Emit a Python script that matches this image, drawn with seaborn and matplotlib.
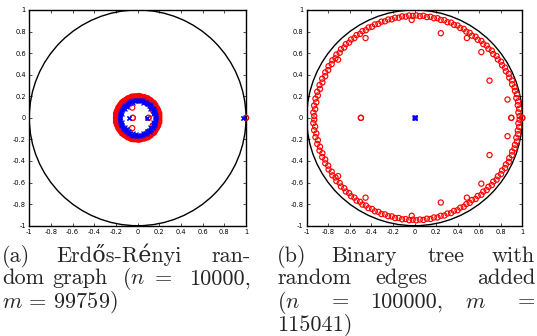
import numpy as np
import pandas as pd
import seaborn as sns
import matplotlib
matplotlib.use('Agg')
from matplotlib import pyplot as plt
from matplotlib.patches import Circle
from matplotlib.ticker import FuncFormatter

# eigenvalues, upper half plane only (conjugates are added when plotting)
# (a) Erdos-Renyi graph, polar: angle (deg) / radius
er_red_ang = [0, 3, 6.5, 9, 12, 15.5, 18, 21, 24.5, 27, 30, 33.5, 36, 39, 42.5, 45, 48, 51.5, 54, 57,
              60.5, 63, 66, 69.5, 72, 75, 78.5, 81, 84, 87.5, 90, 93, 96.5, 99, 102, 105.5, 108, 111,
              114.5, 117, 120, 123.5, 126, 129, 132.5, 135, 138, 141.5, 144, 147, 150.5, 153, 156,
              159.5, 162, 165, 168.5, 171, 174, 177.5, 180]
er_red_rad = [.198, .194, .201, .196, .203, .193, .199, .202, .195, .2,
              .197, .192, .201, .198, .204, .195, .199, .193, .202, .196,
              .2, .203, .194, .198, .201, .195, .192, .2, .197, .203,
              .196, .199, .194, .201, .198, .204, .193, .2, .196, .202,
              .195, .199, .192, .201, .197, .203, .194, .2, .198, .195,
              .202, .193, .199, .196, .201, .194, .203, .197, .2, .195, .199]
er_blue_ang = [1.5, 4, 7.5, 10, 13.5, 16, 19.5, 22, 25.5, 28, 31.5, 34, 37.5, 40, 43.5, 46, 49.5, 52,
               55.5, 58, 61.5, 64, 67.5, 70, 73.5, 76, 79.5, 82, 85.5, 88, 91.5, 94, 97.5, 100, 103.5,
               106, 109.5, 112, 115.5, 118, 121.5, 124, 127.5, 130, 133.5, 136, 139.5, 142, 145.5,
               148, 151.5, 154, 157.5, 160, 163.5, 166, 169.5, 172, 175.5, 178]
er_blue_rad = [.165, .158, .17, .162, .148, .167, .16, .172, .155, .166,
               .161, .169, .14, .163, .168, .157, .171, .16, .152, .166,
               .17, .159, .164, .145, .168, .162, .171, .156, .165, .16,
               .169, .153, .166, .161, .17, .142, .164, .168, .158, .171,
               .162, .15, .167, .16, .169, .155, .165, .17, .146, .163,
               .168, .157, .171, .161, .166, .152, .169, .163, .159, .167]
er_red_x = [-0.05, -0.045, 0.10, 0.092, 0.14, 1.0]
er_red_y = [0.095, 0.0, 0.0, 0.133, 0.07, 0.0]
er_blue_x = [-0.10, -0.078, 0.083, 0.975]
er_blue_y = [0.10, 0.0, 0.0, 0.0]

# (b) binary tree with random edges, polar: (angle deg, radius)
bt_ring = [(1, .975), (3, .965), (5, .975), (7, .965), (9, .972), (11, .962), (13, .975), (15, .965),
           (17, .97), (19, .958), (21, .968), (23, .955), (25, .965), (27, .952), (29, .96), (31, .948),
           (33, .957), (35, .944), (37, .953), (39, .94), (41, .95), (43, .938), (45, .947), (47, .935),
           (49, .945), (51, .932), (53, .942), (55, .93), (57, .94), (59, .933), (61, .943), (63, .935),
           (65, .945), (67, .937), (69, .946), (71, .938), (73, .947), (75, .94), (77, .948), (79, .941),
           (81, .949), (83, .942), (85, .95), (87, .944), (89, .95), (91, .945), (93, .95), (95, .942),
           (97, .948), (99, .94), (101, .946), (103, .938), (105, .944), (107, .936), (109, .943),
           (111, .934), (113, .941), (115, .932), (117, .94), (119, .93), (121, .938), (123, .928),
           (125, .937), (127, .926), (129, .935), (131, .925), (133, .934), (135, .922), (137, .933),
           (139, .92), (141, .932), (143, .918), (145, .93), (147, .916), (149, .93), (151, .915),
           (153, .929), (155, .914), (157, .93), (159, .915), (161, .932), (163, .917), (165, .934),
           (167, .92), (169, .936), (171, .922), (173, .938), (175, .925), (177, .94), (179, .93)]
bt_red_x = [-0.497, -0.454, -0.709, -0.026, 0.244, 0.486, 0.62, 0.696, 0.863, 0.898, 1.0]
bt_red_y = [0.0, 0.74, 0.54, 0.908, 0.785, 0.74, 0.61, 0.345, 0.17, 0.0, 0.0]
bt_blue_x = [0.0, 0.006, -0.006, 0.006, -0.006, 0.0, 0.0]
bt_blue_y = [0.0, 0.006, 0.006, -0.006, -0.006, 0.006, -0.006]

ticks = [-1, -0.8, -0.6, -0.4, -0.2, 0, 0.2, 0.4, 0.6, 0.8, 1]


def eig_frame(ang, rad, xs, ys):
    ang = np.radians(ang)
    rad = np.asarray(rad)
    re = np.concatenate([rad * np.cos(ang), xs])
    im = np.concatenate([rad * np.sin(ang), ys])
    # add complex conjugates
    return pd.DataFrame({'re': np.concatenate([re, re]), 'im': np.concatenate([im, -im])})


sns.set_style('ticks')
plt.rcParams['mathtext.fontset'] = 'cm'

fig = plt.figure(figsize=(5.37, 3.36), dpi=100)
W, H = 537.0, 336.0
ax1 = fig.add_axes([29.3 / W, 1 - 225.7 / H, 216.7 / W, 215.7 / H])
ax2 = fig.add_axes([306.7 / W, 1 - 225.7 / H, 215.6 / W, 215.7 / H])

red_kw = dict(marker='o', s=14, facecolor='none', edgecolor='red', linewidth=0.85, clip_on=False, zorder=3)
blue_kw = dict(marker='x', s=8, color='blue', linewidth=0.9, clip_on=False, zorder=4)

# (a)
sns.scatterplot(data=eig_frame(er_red_ang, er_red_rad, er_red_x, er_red_y),
                x='re', y='im', ax=ax1, **red_kw)
sns.scatterplot(data=eig_frame(er_blue_ang, er_blue_rad, er_blue_x, er_blue_y),
                x='re', y='im', ax=ax1, **blue_kw)

# (b)
sns.scatterplot(data=eig_frame([a for a, r in bt_ring], [r for a, r in bt_ring], bt_red_x, bt_red_y),
                x='re', y='im', ax=ax2, **red_kw)
sns.scatterplot(x=bt_blue_x, y=bt_blue_y, ax=ax2, **blue_kw)

fmt = FuncFormatter(lambda v, p: '%g' % round(v, 1))
for ax in (ax1, ax2):
    ax.add_patch(Circle((0, 0), 1, fill=False, color='black', lw=1.0, zorder=1))
    ax.set_xlim(-1, 1)
    ax.set_ylim(-1, 1)
    ax.set_xticks(ticks)
    ax.set_yticks(ticks)
    ax.xaxis.set_major_formatter(fmt)
    ax.yaxis.set_major_formatter(fmt)
    ax.set_xlabel('')
    ax.set_ylabel('')
    ax.tick_params(direction='in', top=True, right=True, length=2.2, width=0.5,
                   labelsize=4.8, pad=2.5, colors='black')
    for sp in ax.spines.values():
        sp.set_visible(True)
        sp.set_linewidth(1.0)
        sp.set_color('black')

cap_font = ['cmr10', 'DejaVu Serif']
captions = [
    ('(a)', 2, 261.5, 'left'), ('Erdős-Rényi', 56, 261.5, 'left'), ('ran-', 251, 261.5, 'right'),
    ('dom', 2, 284.5, 'left'), ('graph', 52, 284.5, 'left'), ('($n$', 122, 284.5, 'left'),
    ('=', 155, 284.5, 'left'), ('10000,', 251, 284.5, 'right'),
    ('$m$ = 99759)', 2, 307.5, 'left'),
    ('(b)', 277, 261.5, 'left'), ('Binary', 331, 261.5, 'left'), ('tree', 428, 261.5, 'left'),
    ('with', 535, 261.5, 'right'),
    ('random', 277, 284.5, 'left'), ('edges', 375, 284.5, 'left'), ('added', 535, 284.5, 'right'),
    ('($n$', 277, 307.5, 'left'), ('=', 332, 307.5, 'left'), ('100000,', 370, 307.5, 'left'),
    ('$m$', 465, 307.5, 'left'), ('=', 535, 307.5, 'right'),
    ('115041)', 277, 330.5, 'left'),
]
for txt, x, y, ha in captions:
    fig.text(x / W, 1 - y / H, txt, ha=ha, va='baseline', fontsize=16, family=cap_font)

plt.savefig('out.png', dpi=100)
